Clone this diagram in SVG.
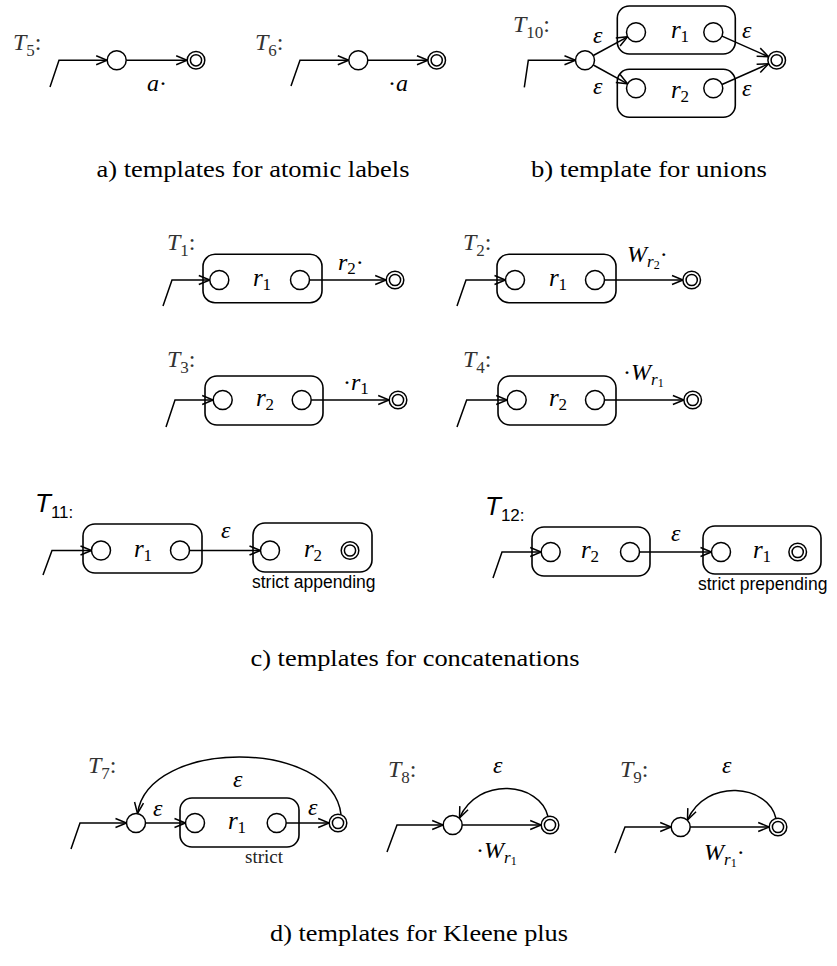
<svg xmlns="http://www.w3.org/2000/svg" width="837" height="966" viewBox="0 0 837 966">
<style>
.st{fill:none;stroke:#000;stroke-width:1.5}
.nd{fill:#fff;stroke:#000;stroke-width:1.5}
.bx{fill:none;stroke:#000;stroke-width:1.6}
.m{font-family:"Liberation Serif",serif;font-style:italic;font-size:24px;fill:#000}
.rb{font-size:25px}
.tl{fill:#333}
.sub{font-size:17px;font-style:normal}
.subi{font-size:17px}
.ss{font-size:12px;font-style:normal}
.up{font-style:normal}
.cap{font-family:"Liberation Serif",serif;font-size:24px;fill:#000}
.sans{font-family:"Liberation Sans",sans-serif;font-size:17.5px;fill:#000}
.tsans{font-family:"Liberation Sans",sans-serif;font-style:italic;font-size:26px;fill:#000}
.ssub{font-style:normal;font-size:17px}
.note{font-family:"Liberation Serif",serif;font-size:19px;fill:#222}
</style>
<defs>
<marker id="ah" viewBox="-12 -7 14 14" refX="0" refY="0" markerWidth="14" markerHeight="14" markerUnits="userSpaceOnUse" orient="auto"><path d="M-11,-4.5 L0,0 L-11,4.5" fill="none" stroke="#000" stroke-width="1.5"/></marker>
<g id="acc"><circle r="8.8" class="nd"/><circle r="5.6" class="nd"/></g>
</defs>
<rect width="837" height="966" fill="#fff"/>

<g id="connectors" class="st" marker-end="url(#ah)">
<polyline points="50,87 59,60.3 107.2,60.3"/>
<line x1="126.2" y1="60.3" x2="187.2" y2="60.3"/>
<polyline points="291,86 300,60.3 348.8,60.3"/>
<line x1="367.8" y1="60.3" x2="428" y2="60.3"/>
<polyline points="524.3,87.3 528.3,60.3 575.5,60.3"/>
<line x1="593.3" y1="55.5" x2="627.6" y2="36.8"/>
<line x1="593.3" y1="65" x2="627.6" y2="83.8"/>
<line x1="722" y1="36.1" x2="768.5" y2="56.7"/>
<line x1="722" y1="84.5" x2="768.5" y2="63.9"/>
<polyline points="163,306 172,280 209.8,280"/>
<line x1="309.5" y1="280" x2="386.2" y2="280"/>
<polyline points="457,306 466,280 505.5,280"/>
<line x1="604.5" y1="280" x2="683" y2="280"/>
<polyline points="166,427 175,400 213.2,400"/>
<line x1="311.2" y1="400" x2="389.2" y2="400"/>
<polyline points="457,427 466.7,400 507.2,400"/>
<line x1="604.5" y1="400" x2="683.9" y2="400"/>
<polyline points="43,575 52,550.5 91.5,550.5"/>
<line x1="189.5" y1="550.5" x2="260.5" y2="550.5"/>
<polyline points="493,578 502,552 541.2,552"/>
<line x1="639.5" y1="552" x2="711.5" y2="552"/>
<polyline points="71,849 80,823 126.5,823"/>
<line x1="145.5" y1="823" x2="185.5" y2="823"/>
<line x1="286.2" y1="823" x2="329.2" y2="823"/>
<path d="M341,814.5 C332,738 148,738 137.5,813.5"/>
<polyline points="387,852 397,825 443.2,825"/>
<line x1="462.2" y1="825" x2="541.2" y2="825"/>
<path d="M548,816.5 C540,782 478,776 459.5,818"/>
<polyline points="615,853 625,827 671.2,827"/>
<line x1="690.2" y1="827" x2="769.2" y2="827"/>
<path d="M776,818.5 C768,784 706,778 687.5,820"/>
</g>

<g id="T5">
<text class="m tl" x="13" y="50">T<tspan class="sub" dy="6">5</tspan><tspan class="up" dy="-6">:</tspan></text>
<g id="T5-q0"><circle cx="116.7" cy="60.3" r="9.5" class="nd"/></g>
<g id="T5-qf"><use href="#acc" x="196" y="60.3"/></g>
<text class="m" x="147" y="91">a<tspan class="up">·</tspan></text>
</g>
<g id="T6">
<text class="m tl" x="255" y="50">T<tspan class="sub" dy="6">6</tspan><tspan class="up" dy="-6">:</tspan></text>
<g id="T6-q0"><circle cx="358.3" cy="60.3" r="9.5" class="nd"/></g>
<g id="T6-qf"><use href="#acc" x="436.7" y="60.3"/></g>
<text class="m" x="388" y="91"><tspan class="up">·</tspan>a</text>
</g>

<g id="T10">
<text class="m tl" x="513" y="32">T<tspan class="sub" dy="6">10</tspan><tspan class="up" dy="-6">:</tspan></text>
<g id="T10-q0"><circle cx="585" cy="60.3" r="9.5" class="nd"/></g>
<g id="T10-r1"><rect x="617.3" y="6" width="118" height="48" rx="12" class="bx"/>
<circle cx="636" cy="32.3" r="9.5" class="nd"/><circle cx="713.3" cy="32.3" r="9.5" class="nd"/>
<text class="m rb" x="680" y="38" text-anchor="middle">r<tspan class="sub" dy="4">1</tspan></text></g>
<g id="T10-r2"><rect x="617.3" y="69.3" width="118" height="48" rx="12" class="bx"/>
<circle cx="636" cy="88.3" r="9.5" class="nd"/><circle cx="713.3" cy="88.3" r="9.5" class="nd"/>
<text class="m rb" x="680" y="98" text-anchor="middle">r<tspan class="sub" dy="4">2</tspan></text></g>
<g id="T10-qf"><use href="#acc" x="776.7" y="60.3"/></g>
<text class="m" x="593" y="43">ε</text>
<text class="m" x="593" y="94">ε</text>
<text class="m" x="742" y="38">ε</text>
<text class="m" x="742" y="96">ε</text>
</g>

<text class="cap" x="253" y="177" text-anchor="middle" textLength="313" lengthAdjust="spacingAndGlyphs">a) templates for atomic labels</text>
<text class="cap" x="531" y="177" textLength="236" lengthAdjust="spacingAndGlyphs">b) template for unions</text>

<g id="T1">
<text class="m tl" x="167" y="250">T<tspan class="sub" dy="6">1</tspan><tspan class="up" dy="-6">:</tspan></text>
<g id="T1-r1"><rect x="203" y="254.3" width="119" height="48.4" rx="12" class="bx"/>
<circle cx="219.3" cy="280" r="9.5" class="nd"/><circle cx="300" cy="280" r="9.5" class="nd"/>
<text class="m rb" x="262" y="286" text-anchor="middle">r<tspan class="sub" dy="4">1</tspan></text></g>
<g id="T1-qf"><use href="#acc" x="395" y="280"/></g>
<text class="m" x="338" y="270">r<tspan class="sub" dy="4">2</tspan><tspan class="up" dy="-4">·</tspan></text>
</g>
<g id="T2">
<text class="m tl" x="463" y="250">T<tspan class="sub" dy="6">2</tspan><tspan class="up" dy="-6">:</tspan></text>
<g id="T2-r1"><rect x="497" y="254.3" width="119" height="48.4" rx="12" class="bx"/>
<circle cx="515" cy="280" r="9.5" class="nd"/><circle cx="595" cy="280" r="9.5" class="nd"/>
<text class="m rb" x="558" y="286" text-anchor="middle">r<tspan class="sub" dy="4">1</tspan></text></g>
<g id="T2-qf"><use href="#acc" x="691.7" y="280"/></g>
<text class="m" x="627" y="262">W<tspan class="subi" dy="5">r</tspan><tspan class="ss" dy="2">2</tspan><tspan class="up" dy="-7">·</tspan></text>
</g>
<g id="T3">
<text class="m tl" x="167" y="367">T<tspan class="sub" dy="6">3</tspan><tspan class="up" dy="-6">:</tspan></text>
<g id="T3-r2"><rect x="205" y="376" width="118" height="49" rx="12" class="bx"/>
<circle cx="222.7" cy="400" r="9.5" class="nd"/><circle cx="301.7" cy="400" r="9.5" class="nd"/>
<text class="m rb" x="265" y="406" text-anchor="middle">r<tspan class="sub" dy="4">2</tspan></text></g>
<g id="T3-qf"><use href="#acc" x="398" y="400"/></g>
<text class="m" x="343" y="390"><tspan class="up">·</tspan>r<tspan class="sub" dy="4">1</tspan></text>
</g>
<g id="T4">
<text class="m tl" x="463" y="367">T<tspan class="sub" dy="6">4</tspan><tspan class="up" dy="-6">:</tspan></text>
<g id="T4-r2"><rect x="498" y="376" width="118" height="49" rx="12" class="bx"/>
<circle cx="516.7" cy="400" r="9.5" class="nd"/><circle cx="595" cy="400" r="9.5" class="nd"/>
<text class="m rb" x="558" y="406" text-anchor="middle">r<tspan class="sub" dy="4">2</tspan></text></g>
<g id="T4-qf"><use href="#acc" x="692.7" y="400"/></g>
<text class="m" x="623" y="380"><tspan class="up">·</tspan>W<tspan class="subi" dy="5">r</tspan><tspan class="ss" dy="2">1</tspan></text>
</g>
<g id="T11">
<text class="tsans" x="35" y="512">T<tspan class="ssub" dy="6">11:</tspan></text>
<g id="T11-r1"><rect x="83" y="524" width="119" height="49" rx="12" class="bx"/>
<circle cx="101" cy="550.5" r="9.5" class="nd"/><circle cx="180" cy="550.5" r="9.5" class="nd"/>
<text class="m rb" x="143" y="557" text-anchor="middle">r<tspan class="sub" dy="4">1</tspan></text></g>
<g id="T11-r2"><rect x="253" y="523" width="119" height="49" rx="12" class="bx"/>
<circle cx="270" cy="550.5" r="9.5" class="nd"/>
<text class="m rb" x="313" y="557" text-anchor="middle">r<tspan class="sub" dy="4">2</tspan></text>
<use href="#acc" x="350" y="550.5"/></g>
<text class="m" x="221" y="538">ε</text>
<text class="sans" x="252" y="588">strict appending</text>
</g>
<g id="T12">
<text class="tsans" x="485" y="515">T<tspan class="ssub" dy="6">12:</tspan></text>
<g id="T12-r2"><rect x="532" y="527" width="118" height="49" rx="12" class="bx"/>
<circle cx="550.7" cy="552" r="9.5" class="nd"/><circle cx="630" cy="552" r="9.5" class="nd"/>
<text class="m rb" x="590" y="558" text-anchor="middle">r<tspan class="sub" dy="4">2</tspan></text></g>
<g id="T12-r1"><rect x="703" y="526" width="118" height="48" rx="12" class="bx"/>
<circle cx="721" cy="552" r="9.5" class="nd"/>
<text class="m rb" x="762" y="558" text-anchor="middle">r<tspan class="sub" dy="4">1</tspan></text>
<use href="#acc" x="797.7" y="552"/></g>
<text class="m" x="671" y="541">ε</text>
<text class="sans" x="698" y="590">strict prepending</text>
</g>

<text class="cap" x="415" y="666" text-anchor="middle" textLength="329" lengthAdjust="spacingAndGlyphs">c) templates for concatenations</text>

<g id="T7">
<text class="m tl" x="88" y="773">T<tspan class="sub" dy="6">7</tspan><tspan class="up" dy="-6">:</tspan></text>
<g id="T7-q0"><circle cx="136" cy="823" r="9.5" class="nd"/></g>
<g id="T7-r1"><rect x="180" y="798" width="119" height="49" rx="12" class="bx"/>
<circle cx="195" cy="823" r="9.5" class="nd"/><circle cx="276.7" cy="823" r="9.5" class="nd"/>
<text class="m rb" x="237" y="829" text-anchor="middle">r<tspan class="sub" dy="4">1</tspan></text></g>
<g id="T7-qf"><use href="#acc" x="338" y="823"/></g>
<text class="m" x="233" y="787">ε</text>
<text class="m" x="153" y="816">ε</text>
<text class="m" x="308" y="815">ε</text>
<text class="note" x="245" y="863">strict</text>
</g>
<g id="T8">
<text class="m tl" x="388" y="777">T<tspan class="sub" dy="6">8</tspan><tspan class="up" dy="-6">:</tspan></text>
<g id="T8-q0"><circle cx="452.7" cy="825" r="9.5" class="nd"/></g>
<g id="T8-qf"><use href="#acc" x="550" y="825"/></g>
<text class="m" x="493" y="773">ε</text>
<text class="m" x="476" y="858"><tspan class="up">·</tspan>W<tspan class="subi" dy="5">r</tspan><tspan class="ss" dy="2">1</tspan></text>
</g>
<g id="T9">
<text class="m tl" x="620" y="777">T<tspan class="sub" dy="6">9</tspan><tspan class="up" dy="-6">:</tspan></text>
<g id="T9-q0"><circle cx="680.7" cy="827" r="9.5" class="nd"/></g>
<g id="T9-qf"><use href="#acc" x="778" y="827"/></g>
<text class="m" x="722" y="773">ε</text>
<text class="m" x="704" y="860">W<tspan class="subi" dy="5">r</tspan><tspan class="ss" dy="2">1</tspan><tspan class="up" dy="-7">·</tspan></text>
</g>

<text class="cap" x="419" y="941" text-anchor="middle" textLength="298" lengthAdjust="spacingAndGlyphs">d) templates for Kleene plus</text>
</svg>
